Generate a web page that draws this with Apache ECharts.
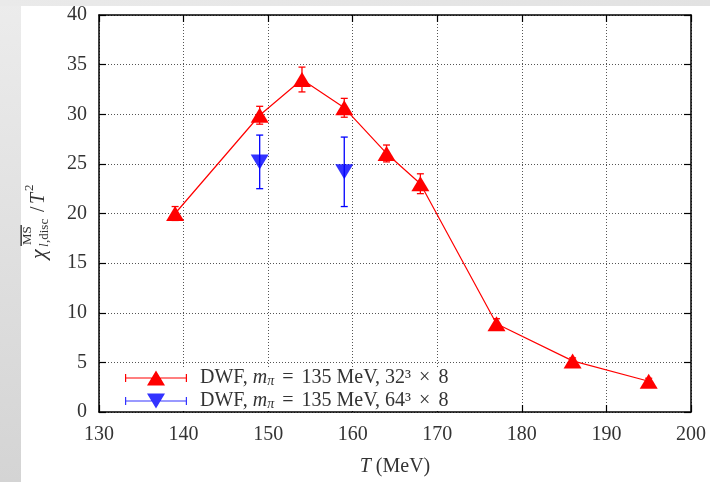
<!DOCTYPE html>
<html>
<head>
<meta charset="utf-8">
<script src="https://cdn.jsdelivr.net/npm/echarts@6/dist/echarts.min.js"></script>
<style>
  html, body { margin: 0; padding: 0; width: 710px; height: 482px; overflow: hidden; }
  body { background: linear-gradient(180deg, #ececec 0%, #d4d4d4 100%); position: relative; }
  #topstrip { position: absolute; left: 0; top: 0; width: 710px; height: 6px; background: linear-gradient(90deg, #eaeaea, #e2e2e2); }
  #panel { position: absolute; left: 21px; top: 6px; width: 689px; height: 476px; background: #ffffff; }
  #chart { position: absolute; left: 0; top: 0; width: 710px; height: 482px; }
</style>
</head>
<body>
<div id="topstrip"></div>
<div id="panel"></div>
<div id="chart"></div>
<script>
// ---- data ----
const redT   = [139, 149, 154, 159, 164, 168, 177, 186, 195];
const redY   = [20.0, 29.9, 33.5, 30.65, 26.05, 23.0, 8.9, 5.15, 3.1];
const redErr = [0.7, 0.9, 1.25, 0.95, 0.85, 1.0, 0.5, 0.3, 0.3];

const blueT   = [149, 159];
const blueY   = [25.2, 24.2];
const blueErr = [2.7, 3.5];

const xTicks = [130, 140, 150, 160, 170, 180, 190, 200];
const yTicks = [0, 5, 10, 15, 20, 25, 30, 35, 40];

const redName  = 'DWF, m_π = 135 MeV, 32³ × 8';
const blueName = 'DWF, m_π = 135 MeV, 64³ × 8';
const legendRich = {
  32: '{g|}{r|DWF, }{i|m}{s|π}{q|=}{r|135 MeV, 32³}{q|×}{r|8}',
  64: '{g|}{r|DWF, }{i|m}{s|π}{q|=}{r|135 MeV, 64³}{q|×}{r|8}'
};

const RED = '#ff0000', BLUE = '#0000ff';
const FONT = '"Liberation Serif", "DejaVu Serif", serif';

const chart = echarts.init(document.getElementById('chart'), null, { renderer: 'canvas' });

function errBar(color, hw) {
  return function (params, api) {
    const x = api.value(0), y = api.value(1), e = api.value(2);
    const t = api.coord([x, y + e]);
    const b = api.coord([x, y - e]);
    const st = { stroke: color, lineWidth: 1.3 };
    return {
      type: 'group',
      children: [
        { type: 'line', shape: { x1: t[0], y1: t[1], x2: b[0], y2: b[1] }, style: st },
        { type: 'line', shape: { x1: t[0] - hw, y1: t[1], x2: t[0] + hw, y2: t[1] }, style: st },
        { type: 'line', shape: { x1: b[0] - hw, y1: b[1], x2: b[0] + hw, y2: b[1] }, style: st }
      ]
    };
  };
}

const redIcon  = 'path://M0,7.4H62V8.6H0Z M0,4H1.2V12H0Z M60.8,4H62V12H60.8Z M31,0.5L40,15.5H22Z';
const blueIcon = 'path://M0,7.4H62V8.6H0Z M0,4H1.2V12H0Z M60.8,4H62V12H60.8Z M22,0.5H40L31,15.5Z';

const tickLabel = { fontFamily: FONT, fontSize: 20, color: '#333' };
const gridDots = { show: true, lineStyle: { color: '#555', width: 1, type: [1, 2] } };
const axisLn = { show: true, onZero: false, lineStyle: { color: '#000', width: 1.5 } };

const option = {
  backgroundColor: 'transparent',
  animation: false,
  grid: { left: 99, right: 19, top: 15, bottom: 65, containLabel: false },
  xAxis: [
    {
      type: 'value', min: 130, max: 200, interval: 10, position: 'bottom',
      axisLine: axisLn,
      axisTick: { show: true, inside: true, length: 7, lineStyle: { color: '#000', width: 1.2 } },
      axisLabel: Object.assign({ margin: 13, formatter: v => xTicks.includes(v) ? String(v) : '' }, tickLabel),
      splitLine: gridDots,
      name: '{i|T} (MeV)', nameLocation: 'middle', nameGap: 45,
      nameTextStyle: { fontFamily: FONT, fontSize: 20, color: '#333',
        rich: { i: { fontFamily: FONT, fontStyle: 'italic', fontSize: 20, color: '#333' } } }
    },
    {
      type: 'value', min: 130, max: 200, interval: 10, position: 'top',
      axisLine: axisLn,
      axisTick: { show: true, inside: true, length: 7, lineStyle: { color: '#000', width: 1.2 } },
      axisLabel: { show: false }, splitLine: { show: false }
    }
  ],
  yAxis: [
    {
      type: 'value', min: 0, max: 40, interval: 5, position: 'left',
      axisLine: axisLn,
      axisTick: { show: true, inside: true, length: 7, lineStyle: { color: '#000', width: 1.2 } },
      axisLabel: Object.assign({ margin: 12, formatter: v => yTicks.includes(v) ? String(v) : '' }, tickLabel),
      splitLine: gridDots
    },
    {
      type: 'value', min: 0, max: 40, interval: 5, position: 'right',
      axisLine: axisLn,
      axisTick: { show: true, inside: true, length: 7, lineStyle: { color: '#000', width: 1.2 } },
      axisLabel: { show: false }, splitLine: { show: false }
    }
  ],
  legend: {
    orient: 'vertical', left: 105, top: 368,
    padding: [0, 12, 0, 20],
    backgroundColor: '#ffffff',
    itemWidth: 62, itemHeight: 16, itemGap: 3,
    data: [
      { name: redName, icon: redIcon },
      { name: blueName, icon: blueIcon }
    ],
    formatter: function (name) { return name === redName ? legendRich[32] : legendRich[64]; },
    textStyle: {
      fontFamily: FONT, fontSize: 20, color: '#333', lineHeight: 20,
      rich: {
        g: { width: 8 },
        r: { fontFamily: FONT, fontSize: 20, color: '#333', lineHeight: 20 },
        q: { fontFamily: FONT, fontSize: 20, color: '#333', lineHeight: 20, padding: [0, 8, 0, 8] },
        i: { fontFamily: FONT, fontSize: 20, fontStyle: 'italic', color: '#333', lineHeight: 20 },
        s: { fontFamily: FONT, fontSize: 14, fontStyle: 'italic', color: '#333', lineHeight: 20, verticalAlign: 'bottom', padding: [6, 0, 0, 0] }
      }
    }
  },
  graphic: [
    {
      type: 'group', x: 45, y: 217, rotation: Math.PI / 2,
      children: [
        { type: 'text', x: -42, y: -6, style: { text: 'χ', fontFamily: FONT, fontStyle: 'italic', fontSize: 22, fill: '#333', verticalAlign: 'middle', align: 'left' } },
        { type: 'text', x: -28, y: -17, style: { text: 'MS', fontFamily: FONT, fontSize: 13, fill: '#333', verticalAlign: 'middle', align: 'left' } },
        { type: 'rect', shape: { x: -29, y: -24.5, width: 21, height: 1.3 }, style: { fill: '#222' } },
        { type: 'text', x: -30, y: 0, style: { text: 'l', fontFamily: FONT, fontStyle: 'italic', fontSize: 13, fill: '#333', verticalAlign: 'middle', align: 'left' } },
        { type: 'text', x: -26, y: 0, style: { text: ',disc', fontFamily: FONT, fontSize: 13, fill: '#333', verticalAlign: 'middle', align: 'left' } },
        { type: 'text', x: 5, y: -6, style: { text: '/', fontFamily: FONT, fontSize: 20, fill: '#333', verticalAlign: 'middle', align: 'left' } },
        { type: 'text', x: 13, y: -6, style: { text: 'T', fontFamily: FONT, fontStyle: 'italic', fontSize: 20, fill: '#333', verticalAlign: 'middle', align: 'left' } },
        { type: 'text', x: 26, y: -15, style: { text: '2', fontFamily: FONT, fontSize: 13, fill: '#333', verticalAlign: 'middle', align: 'left' } }
      ]
    }
  ],
  series: [
    {
      type: 'custom', name: 'redErr', xAxisIndex: 0, yAxisIndex: 0, z: 2,
      renderItem: errBar(RED, 3.5),
      data: redT.map((t, i) => [t, redY[i], redErr[i]]),
      silent: true
    },
    {
      type: 'custom', name: 'blueErr', xAxisIndex: 0, yAxisIndex: 0, z: 2,
      renderItem: errBar(BLUE, 3.5),
      data: blueT.map((t, i) => [t, blueY[i], blueErr[i]]),
      silent: true
    },
    {
      type: 'line', name: redName, xAxisIndex: 0, yAxisIndex: 0, z: 3,
      data: redT.map((t, i) => [t, redY[i]]),
      symbol: 'triangle', symbolSize: [18, 15], showAllSymbol: true,
      itemStyle: { color: RED, borderWidth: 0 },
      lineStyle: { color: RED, width: 1.2 }
    },
    {
      type: 'scatter', name: blueName, xAxisIndex: 0, yAxisIndex: 0, z: 3,
      data: blueT.map((t, i) => [t, blueY[i]]),
      symbol: 'triangle', symbolRotate: 180, symbolSize: [18, 15],
      itemStyle: { color: BLUE, borderWidth: 0 }
    }
  ]
};
chart.setOption(option);
</script>
</body>
</html>
